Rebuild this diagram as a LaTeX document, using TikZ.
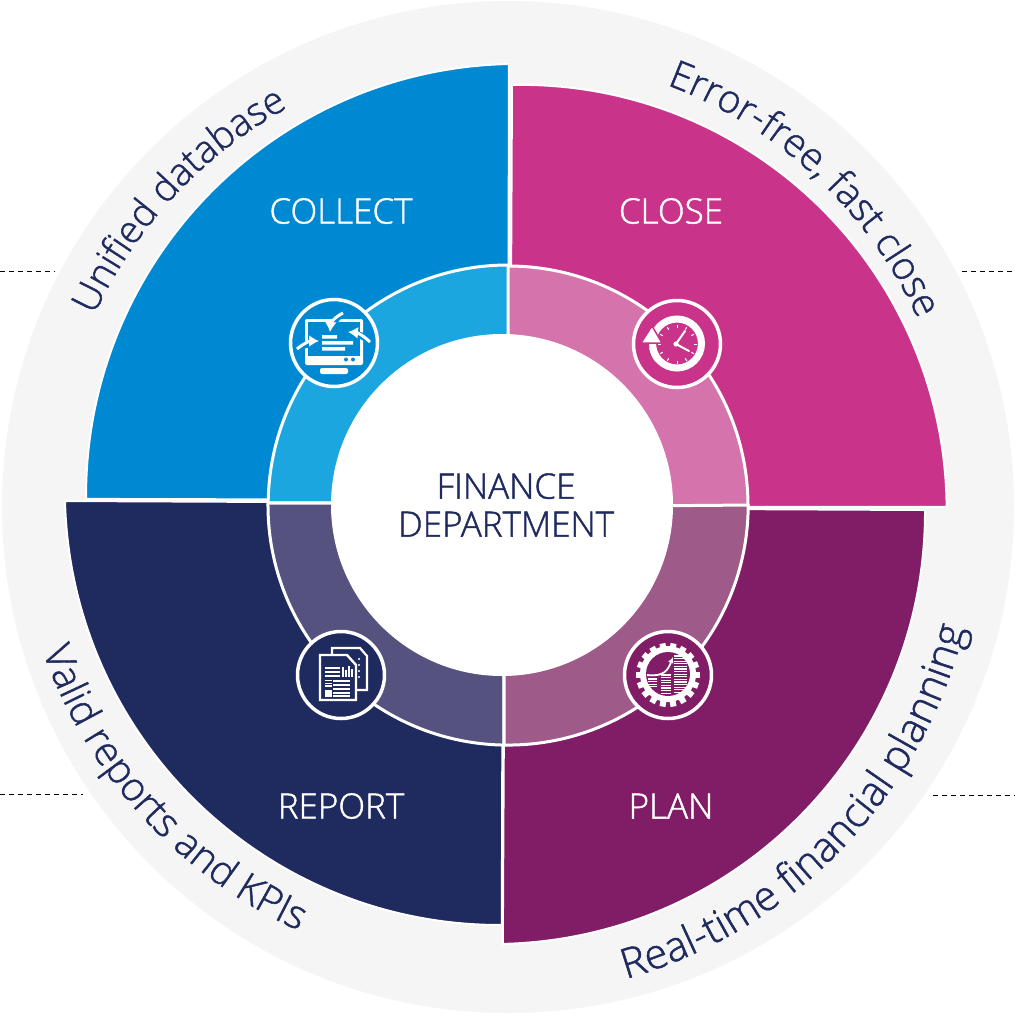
\documentclass[tikz,border=0pt]{standalone}
\usepackage{fontspec}
\setmainfont{Open Sans Light}[FakeBold=1.2]
\usetikzlibrary{arrows.meta, decorations.text}

\definecolor{greyband}{HTML}{F5F5F5}
\definecolor{collectblue}{HTML}{0089D3}
\definecolor{closepink}{HTML}{C9338A}
\definecolor{reportnavy}{HTML}{1F2A5F}
\definecolor{planplum}{HTML}{811D66}
\definecolor{collectring}{HTML}{1CA6E0}
\definecolor{closering}{HTML}{D573AC}
\definecolor{reportring}{HTML}{55527F}
\definecolor{planring}{HTML}{9E5A88}

\newcommand{\arclabel}[6]{\path[shift={(#1)}, decorate, decoration={text along path, text align=center, text={|\fontsize{#6}{46}\selectfont\color{reportnavy}|#5}}] (#3:#2) arc[start angle=#3, end angle=#4, radius=#2];}

\begin{document}
\begin{tikzpicture}[
            x=1pt, y=-1pt,
            sector/.style={draw=white, line width=2pt},
            ringpart/.style={draw=white, line width=3pt},
            title/.style={text=white, font=\fontsize{35}{40}\selectfont, inner sep=0pt},
            badge/.style={circle, draw=white, line width=3.5pt, minimum size=87pt, inner sep=0pt},
            iconarrow/.style={white, line width=3pt, -{Latex[length=10pt,width=12pt]}},
            dashline/.style={black, line width=0.7pt, dash pattern=on 5pt off 4pt}
        ]
            \useasboundingbox (0,0) rectangle (1015,1013);
            \coordinate (dashTL) at (0,271);
            \coordinate (dashTLe) at (55,271);
            \coordinate (dashTR) at (962,271);
            \coordinate (dashTRe) at (1015,271);
            \coordinate (dashBL) at (0,794);
            \coordinate (dashBLe) at (83,794);
            \coordinate (dashBR) at (933,795);
            \coordinate (dashBRe) at (1015,795);
            \draw[dashline] (dashTL) -- (dashTLe);
            \draw[dashline] (dashTR) -- (dashTRe);
            \draw[dashline] (dashBL) -- (dashBLe);
            \draw[dashline] (dashBR) -- (dashBRe);

            \fill[greyband] (508,507) circle [radius=506];

            % quarters
            \draw[sector, fill=collectblue] (508,500) -- (509,64) arc[start angle=-91.2, end angle=-180.4, radius=432] -- cycle;
            \draw[sector, fill=closepink] (510,507) -- (512,85) arc[start angle=-91.3, end angle=-0.4, radius=425] -- cycle;
            \draw[sector, fill=reportnavy] (503,503) -- (65,501) arc[start angle=-181.45, end angle=-270.26, radius=435] -- cycle;
            \draw[sector, fill=planplum] (505,508) -- (925,510) arc[start angle=-0.27, end angle=88.7, radius=432] -- cycle;

            % inner ring
            \draw[ringpart, fill=collectring] (508,503) -- (509,265) arc[start angle=-89.8, end angle=-179.5, radius=240] -- cycle;
            \draw[ringpart, fill=closering] (508,505) -- (748,506) arc[start angle=0, end angle=-90, radius=240] -- cycle;
            \draw[ringpart, fill=reportring] (504,503) -- (268,503) arc[start angle=180.5, end angle=91, radius=240] -- cycle;
            \draw[ringpart, fill=planring] (504,507) -- (504,745) arc[start angle=91, end angle=0, radius=240] -- cycle;
            \node (centre) [circle, fill=white, minimum size=342pt, inner sep=0pt] at (502,505) {};
            \node (finance) [text=reportnavy, font=\fontsize{35}{38}\selectfont, align=center] at (506,505) {FINANCE\\DEPARTMENT};

            \node (collect) [title] at (341,211) {COLLECT};
            \node (close) [title] at (671,211) {CLOSE};
            \node (report) [title] at (341,806) {REPORT};
            \node (plan) [title] at (671,806) {PLAN};

            \arclabel{508,507}{456}{-162}{-112}{Unified database}{38}
            \arclabel{508,507}{451}{-74}{-20}{Error-free, fast close}{38.8}
            \arclabel{499,490}{484}{-195}{-250}{Valid reports and KPIs}{39.6}
            \arclabel{491,510}{488}{78}{10}{Real-time financial planning}{41.5}

            \node (collecticon) [badge, fill=collectblue] at (334,343) {};
            \node (closeicon) [badge, fill=closepink] at (677,344) {};
            \node (reporticon) [badge, fill=reportnavy] at (341,675) {};
            \node (planicon) [badge, fill=planplum] at (668,675) {};

            % monitor
            \begin{scope}[shift={(collecticon)}]
                \fill[white, rounded corners=2pt] (-29,-24) rectangle (29,22);
                \fill[collectblue] (-26,-21) rectangle (26,13);
                \fill[collectblue] (12,16.5) circle [radius=2] (19,16.5) circle [radius=2];
                \fill[white, rounded corners=2pt] (-14,25) rectangle (14,31);
                \fill[white] (-12,-8) rectangle (3,-4.5) (-12,-2) rectangle (19,1.5) (-12,4) rectangle (11,7.5);
                \draw[collectblue, line width=7pt] (9,-29) to[bend right=30] (0,-19);
                \draw[collectblue, line width=7pt] (-36,6) to[bend left=20] (-24,1);
                \draw[collectblue, line width=7pt] (36,-1) to[bend right=20] (24,-8);
                \draw[iconarrow] (9,-30) to[bend right=30] (-4,-11);
                \draw[iconarrow] (-37,6) to[bend left=20] (-15,-2);
                \draw[iconarrow] (36,-1) to[bend right=20] (14,-11);
            \end{scope}

            % clock
            \begin{scope}[shift={(closeicon)}]
                \draw[white, line width=7pt] (0,-0.5) circle [radius=24.5];
                \foreach \a in {0,30,...,330} {
                    \draw[white, line width=1pt] (\a:16.5) -- (\a:19.5);
                }
                \draw[white, line width=2pt, line cap=round] (-1,0) -- (8,-13);
                \draw[white, line width=2pt, line cap=round] (-1,0) -- (12,7);
                \fill[white] (-1,0) circle [radius=2.6];
                \draw[closepink, fill=white, line width=1.5pt] (-36,-1) -- (-15,-1) -- (-25,-18) -- cycle;
                \draw[white, line width=7pt] (172:24.5) arc[start angle=172, end angle=140, radius=24.5];
            \end{scope}

            % pages
            \begin{scope}[shift={(reporticon)}]
                \draw[white, line width=2.2pt] (-9,-20) -- (-9,-27) -- (19,-27) -- (26,-19) -- (26,15) -- (16,15);
                \fill[white] (18,-16) circle [radius=1.2] (18,-10) circle [radius=1.2] (18,-4) circle [radius=1.2] (18,2) circle [radius=1.2];
                \draw[white, line width=2.4pt, fill=reportnavy] (-21,-20) -- (6,-20) -- (15,-10) -- (15,25) -- (-21,25) -- cycle;
                \foreach \y in {-7,-3,1} {
                    \draw[white, line width=1.5pt] (-16,\y) -- (-1,\y);
                }
                \foreach \x/\h in {2/-8,5/-5,8/-9,11/-6} {
                    \draw[white, line width=1.6pt] (\x,1.5) -- (\x,\h);
                }
                \foreach \y in {6,10,14,18,21} {
                    \draw[white, line width=1.6pt] (-8,\y) -- (9,\y);
                }
                \foreach \y in {5.5,8.5,11} {
                    \draw[white, line width=1.2pt] (-16,\y) -- (-9,\y);
                }
                \fill[white] (-16,15) rectangle (-9,22);
            \end{scope}

            % gear
            \begin{scope}[shift={(planicon)}]
                \foreach \a in {0,20,...,340} {
                    \fill[white, rotate=\a] (25,-3) rectangle (32,3);
                }
                \fill[white] (0,-1) circle [radius=28];
                \fill[planplum] (0,-1) circle [radius=22];
                \foreach \y in {4,6.6,...,14} {
                    \draw[white, line width=1.2pt] (-20,\y) -- (-11,\y);
                }
                \foreach \y in {0,2.6,...,19} {
                    \draw[white, line width=1.2pt] (-7,\y) -- (3,\y);
                }
                \foreach \y in {-19,-16.4,...,20} {
                    \draw[white, line width=1.2pt] (6,\y) -- (19,\y);
                }
                \draw[white, line width=1.8pt, -{Latex[length=6pt,width=6pt]}] (-21,0) .. controls (-4,2) and (0,-5) .. (5,-18);
            \end{scope}
        \end{tikzpicture}
\end{document}
